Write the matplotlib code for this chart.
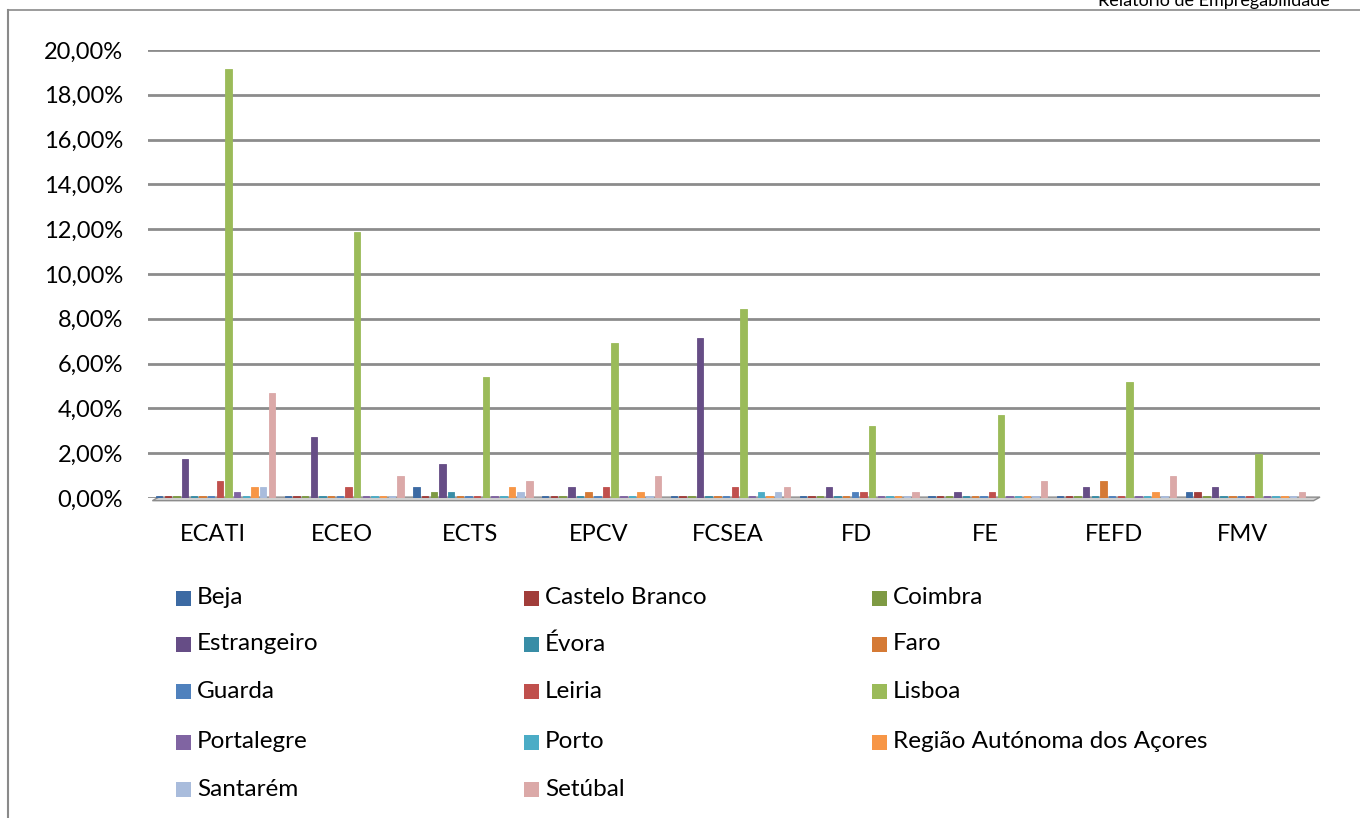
import numpy as np
import matplotlib.pyplot as plt
from matplotlib.patches import Rectangle, Polygon
from matplotlib.ticker import FuncFormatter

plt.rcParams['font.family'] = ['Lato', 'DejaVu Sans']

# dados (percentagens)
cursos = ['ECATI', 'ECEO', 'ECTS', 'EPCV', 'FCSEA', 'FD', 'FE', 'FEFD', 'FMV']
distritos = ['Beja', 'Castelo Branco', 'Coimbra', 'Estrangeiro', 'Évora', 'Faro',
             'Guarda', 'Leiria', 'Lisboa', 'Portalegre', 'Porto',
             'Região Autónoma dos Açores', 'Santarém', 'Setúbal']

beja = [0, 0, 0.5, 0, 0, 0, 0, 0, 0.25]
castelo_branco = [0, 0, 0, 0, 0, 0, 0, 0, 0.25]
coimbra = [0, 0, 0.25, 0, 0, 0, 0, 0, 0]
estrangeiro = [1.74, 2.74, 1.5, 0.5, 7.15, 0.5, 0.25, 0.5, 0.5]
evora = [0, 0, 0.25, 0, 0, 0, 0, 0, 0]
faro = [0, 0, 0, 0.25, 0, 0, 0, 0.75, 0]
guarda = [0, 0, 0, 0, 0, 0.25, 0, 0, 0]
leiria = [0.75, 0.5, 0, 0.5, 0.5, 0.25, 0.25, 0, 0]
lisboa = [19.15, 11.88, 5.42, 6.92, 8.42, 3.2, 3.7, 5.18, 1.97]
portalegre = [0.25, 0, 0, 0, 0, 0, 0, 0, 0]
porto = [0, 0, 0, 0, 0.25, 0, 0, 0, 0]
acores = [0.5, 0, 0.5, 0.25, 0, 0, 0, 0.25, 0]
santarem = [0.5, 0, 0.25, 0, 0.25, 0, 0, 0, 0]
setubal = [4.7, 1.0, 0.75, 1.0, 0.5, 0.25, 0.75, 1.0, 0.25]

valores = [beja, castelo_branco, coimbra, estrangeiro, evora, faro, guarda,
           leiria, lisboa, portalegre, porto, acores, santarem, setubal]

cores = ['#3C6AA3', '#A13D3A', '#7E9A43', '#664D86', '#388DA6', '#D57A35',
         '#4F81BD', '#C0504D', '#9BBB59', '#8064A2', '#4BACC6', '#F79646',
         '#A9BCDC', '#DBA9A8']

W, H = 1360, 818
fig = plt.figure(figsize=(W / 100, H / 100), dpi=100)

# moldura da pagina
fig.add_artist(plt.Line2D([8 / W, 8 / W], [0, 1 - 10 / H], color='#8a8a8a', lw=1.5))
fig.add_artist(plt.Line2D([8 / W, 1], [1 - 10 / H, 1 - 10 / H], color='#8a8a8a', lw=1.2))
fig.text(1330 / W, 1 - 1 / H, 'Relatório de Empregabilidade', ha='right', va='center',
         fontsize=13)

ax = fig.add_axes([148 / W, 1 - 498 / H, (1320 - 148) / W, (498 - 50) / H])
ax.set_xlim(-0.504, 8.6)
ax.set_ylim(0, 0.20)
for s in ax.spines.values():
    s.set_visible(False)

ax.set_yticks(np.arange(0, 0.201, 0.02))
ax.yaxis.set_major_formatter(FuncFormatter(lambda v, p: ('%.2f%%' % (v * 100)).replace('.', ',')))
ax.tick_params(axis='y', length=0, pad=18, labelsize=17)
ax.tick_params(axis='x', length=0, pad=19, labelsize=17)
ax.set_xticks(range(len(cursos)))
ax.set_xticklabels(cursos)
ax.yaxis.grid(True, color='#8c8c8c', lw=2)
ax.set_axisbelow(True)

# chao do grafico
ax.add_patch(Polygon([[-0.47, -0.0012], [8.55, -0.0012], [8.6, 0.0004], [-0.42, 0.0004]],
                     closed=True, facecolor='#cfcfcf', edgecolor='#8c8c8c', lw=1,
                     clip_on=False, zorder=1.5))

x = np.arange(len(cursos))
slot = 0.0674
for i, (nome, v, c) in enumerate(zip(distritos, valores, cores)):
    v = np.array(v) / 100.0
    h = np.where(v > 0, v, 0.0008)
    ax.bar(x + (i - 6.5) * slot + 0.02, h, width=0.05, color=c,
           edgecolor=c, linewidth=0.6, zorder=3, label=nome)

# legenda (3 colunas, ordem por linha)
col_x = [176, 524, 872]
row_y = [598, 644, 691, 742, 789]
for i, (nome, c) in enumerate(zip(distritos, cores)):
    cx = col_x[i % 3]
    cy = row_y[i // 3]
    fig.add_artist(Rectangle((cx / W, 1 - (cy + 7.5) / H), 15 / W, 15 / H,
                             facecolor=c, edgecolor='none'))
    fig.text((cx + 21) / W, 1 - cy / H, nome, ha='left', va='center', fontsize=17.5)

fig.savefig('out.png', dpi=100)
